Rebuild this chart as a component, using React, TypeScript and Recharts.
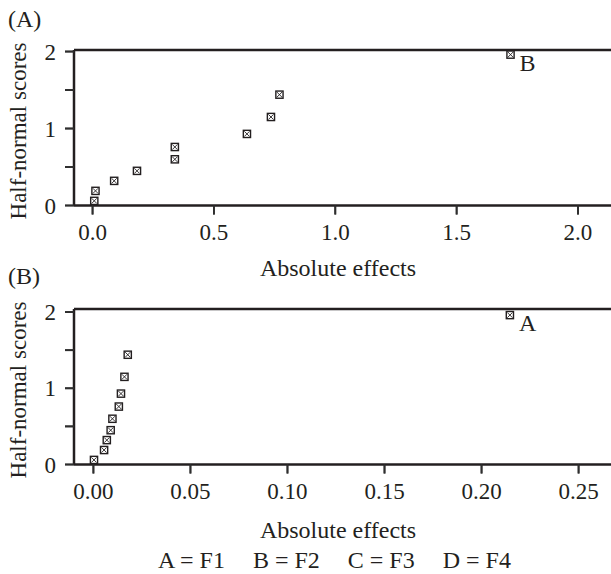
import { ScatterChart, Scatter, XAxis, YAxis, ReferenceLine } from 'recharts'

// values
const halfNormalScores = [0.06, 0.19, 0.32, 0.45, 0.6, 0.76, 0.93, 1.15, 1.44, 1.96]
const effectsA = [0.007, 0.012, 0.089, 0.183, 0.339, 0.339, 0.636, 0.735, 0.77, 1.722]
const effectsB = [0.0003, 0.0055, 0.0069, 0.0089, 0.0098, 0.0131, 0.0142, 0.016, 0.0177, 0.2146]
const pointLabelsA = ['', '', '', '', '', '', '', '', '', 'B']
const pointLabelsB = ['', '', '', '', '', '', '', '', '', 'A']
const xTicksA = [0, 0.5, 1, 1.5, 2]
const xTicksB = [0, 0.05, 0.1, 0.15, 0.2, 0.25]
const yTicks = [0, 0.5, 1, 1.5, 2]
const factorKeys = ['A = F1', 'B = F2', 'C = F3', 'D = F4']

const INK = '#231f20'
const TICK = '#2e2e2e'
const FONT = '"Liberation Serif", "DejaVu Serif", serif'
const TICK_SIZE = 9
const TICK_GAP = 9

function BoxX(props: any) {
  const { cx, cy, payload } = props
  const s = 3.6
  return (
    <g>
      <rect x={cx - s} y={cy - s} width={s * 2} height={s * 2} fill="#fff" stroke={INK} strokeWidth={1.4} />
      <line x1={cx - s + 1} y1={cy - s + 1} x2={cx + s - 1} y2={cy + s - 1} stroke={INK} strokeWidth={0.9} />
      <line x1={cx - s + 1} y1={cy + s - 1} x2={cx + s - 1} y2={cy - s + 1} stroke={INK} strokeWidth={0.9} />
      {payload.label ? (
        <text x={cx + 9} y={cy + 16} fontSize={24} fontFamily={FONT} fill={INK}>
          {payload.label}
        </text>
      ) : null}
    </g>
  )
}

// y tick: mark every half step, label only whole numbers
function YTick(props: any) {
  const { x, y, payload } = props
  const v = payload.value as number
  return (
    <g>
      <line x1={x + TICK_GAP} y1={y} x2={x + TICK_GAP + TICK_SIZE} y2={y} stroke={TICK} strokeWidth={1.8} />
      {Number.isInteger(v) ? (
        <text x={x} y={y} dy="0.355em" textAnchor="end" fontSize={23} fontFamily={FONT} fill={INK}>
          {v}
        </text>
      ) : null}
    </g>
  )
}

function makeXTick(digits: number) {
  return function XTick(props: any) {
    const { x, y, payload } = props
    return (
      <g>
        <line x1={x} y1={y - TICK_GAP - TICK_SIZE} x2={x} y2={y - TICK_GAP} stroke={TICK} strokeWidth={1.8} />
        <text x={x} y={y} dy="0.71em" textAnchor="middle" fontSize={23} fontFamily={FONT} fill={INK}>
          {(payload.value as number).toFixed(digits)}
        </text>
      </g>
    )
  }
}

interface PanelProps {
  top: number
  effects: number[]
  labels: string[]
  xTicks: number[]
  xDomain: [number, number]
  yMax: number
  digits: number
}

function Panel({ top, effects, labels, xTicks, xDomain, yMax, digits }: PanelProps) {
  const data = effects.map((x, i) => ({ x, y: halfNormalScores[i], label: labels[i] }))
  return (
    <div style={{ position: 'absolute', left: 0, top }}>
      <ScatterChart width={611} height={260} margin={{ top: 50, right: 0, bottom: 14.5, left: 0 }}>
        <XAxis
          type="number"
          dataKey="x"
          domain={xDomain}
          ticks={xTicks}
          interval={0}
          allowDataOverflow
          height={40}
          tickSize={TICK_SIZE}
          tickMargin={TICK_GAP}
          axisLine={{ stroke: INK, strokeWidth: 2.5 }}
          tickLine={{ stroke: TICK, strokeWidth: 1.8 }}
          tick={makeXTick(digits)}
        />
        <YAxis
          type="number"
          dataKey="y"
          domain={[0, yMax]}
          ticks={yTicks}
          interval={0}
          allowDataOverflow
          width={74}
          tickSize={TICK_SIZE}
          tickMargin={TICK_GAP}
          axisLine={{ stroke: INK, strokeWidth: 2.5 }}
          tickLine={{ stroke: TICK, strokeWidth: 1.8 }}
          tick={YTick}
        />
        <ReferenceLine y={yMax} stroke={INK} strokeWidth={2.5} ifOverflow="visible" />
        <Scatter data={data} shape={BoxX} isAnimationActive={false} />
      </ScatterChart>
    </div>
  )
}

const textStyle = { position: 'absolute' as const, fontSize: 24, lineHeight: '30px', whiteSpace: 'pre' as const }

export default function App() {
  return (
    <div
      style={{
        position: 'absolute',
        left: 0,
        top: 0,
        width: 611,
        height: 574,
        overflow: 'hidden',
        background: '#fff',
        fontFamily: FONT,
        color: INK,
      }}
    >
      <Panel top={0} effects={effectsA} labels={pointLabelsA} xTicks={xTicksA} xDomain={[-0.0765, 2.136]} yMax={2.02} digits={1} />
      <Panel top={259.3} effects={effectsB} labels={pointLabelsB} xTicks={xTicksB} xDomain={[-0.01, 0.2667]} yMax={2.04} digits={2} />

      <div style={{ ...textStyle, left: 8, top: 4 }}>(A)</div>
      <div style={{ ...textStyle, left: 8, top: 261 }}>(B)</div>

      <div style={{ ...textStyle, fontSize: 23, left: 19 - 150, top: 131 - 15, width: 300, textAlign: 'center', transform: 'rotate(-90deg)' }}>
        Half-normal scores
      </div>
      <div style={{ ...textStyle, fontSize: 23, left: 19 - 150, top: 390 - 15, width: 300, textAlign: 'center', transform: 'rotate(-90deg)' }}>
        Half-normal scores
      </div>

      <div style={{ ...textStyle, left: 338 - 150, top: 253, width: 300, textAlign: 'center' }}>Absolute effects</div>
      <div style={{ ...textStyle, left: 338 - 150, top: 514.5, width: 300, textAlign: 'center' }}>Absolute effects</div>

      <div style={{ ...textStyle, left: 158, top: 544.5, display: 'flex', gap: 28 }}>
        {factorKeys.map((k) => (
          <span key={k}>{k}</span>
        ))}
      </div>
    </div>
  )
}
